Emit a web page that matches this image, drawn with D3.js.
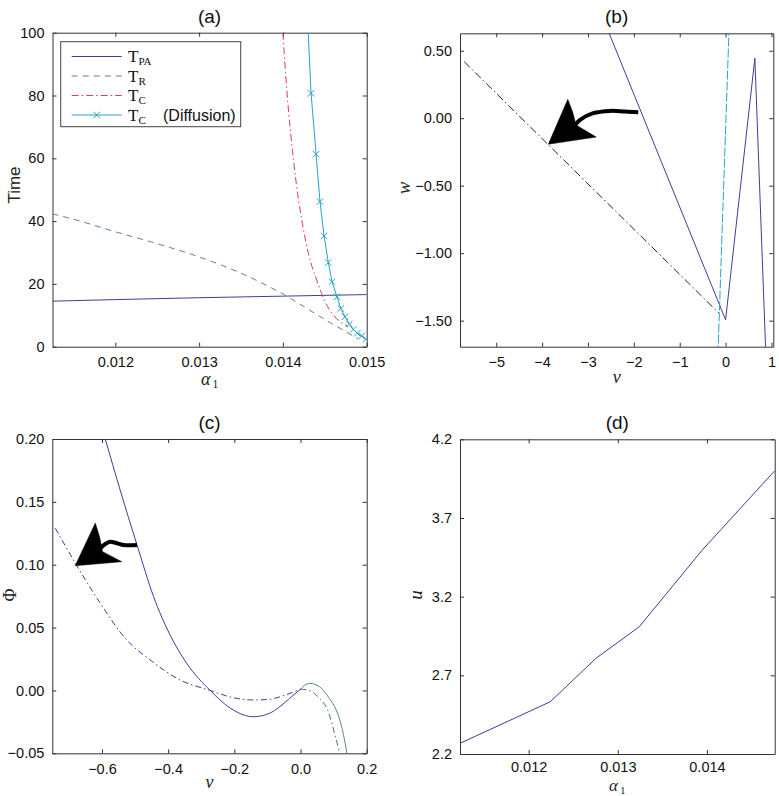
<!DOCTYPE html>
<html><head><meta charset="utf-8">
<script src="https://cdn.jsdelivr.net/npm/d3@7"></script>
<style>body{margin:0;background:#fff}svg{display:block}</style>
</head><body>
<script>
// ---------------- data ----------------
// (a) Time vs alpha_1
const alphaPA = [0.01125, 0.012, 0.013, 0.014, 0.015];
const timePA  = [14.5, 15.0, 15.6, 16.1, 16.6];
const alphaR  = [0.01125, 0.0115, 0.012, 0.0125, 0.013, 0.0135, 0.0138, 0.0140, 0.0142, 0.0144, 0.0146, 0.0148, 0.0149];
const timeR   = [42.3, 40.6, 36.6, 32.8, 28.6, 23.4, 19.6, 16.8, 13.6, 10.3, 7.1, 4.0, 2.5];
const alphaC  = [0.01400, 0.014048, 0.014095, 0.014157, 0.014225, 0.014304, 0.014404, 0.014503, 0.014602, 0.014702, 0.01478];
const timeC   = [100, 81.2, 67.4, 52.5, 40.4, 29.7, 21.2, 14.3, 10.1, 7.6, 6.4];
const alphaDiff = [0.014288, 0.014336, 0.014396, 0.014443, 0.014491, 0.014542, 0.014586, 0.014646, 0.01469, 0.014741, 0.014793, 0.01484, 0.014888, 0.01494, 0.014992];
const timeDiff  = [108, 80.7, 61.3, 46.2, 35.3, 26.8, 20.7, 15.9, 12.2, 9.55, 7.2, 5.5, 4.3, 3.4, 2.4];
const aXTicks = [0.012, 0.013, 0.014, 0.015];
const aYTicks = [0, 20, 40, 60, 80, 100];

// (b) w vs v
const vB_solid = [-2.56, 0, 0.638, 0.877];
const wB_solid = [0.647, -1.494, 0.444, -1.75];
const vB_dashdot = [-5.70, -0.146];
const wB_dashdot = [0.419, -1.444];
const vB_dashed = [-0.167, 0.077];
const wB_dashed = [-1.75, 0.68];
const bXTicks = [-5, -4, -3, -2, -1, 0, 1];
const bYTicks = [0.5, 0, -0.5, -1.0, -1.5];
// arrow annotation (b), data coordinates
const arrowB_body = [[-1.904, 0.044], [-2.2, 0.05], [-2.521, 0.054], [-2.885, 0.037], [-3.174, -0.013], [-3.30, -0.06]];
const arrowB_head = [[-3.865, -0.193], [-3.44, 0.14], [-3.26, -0.05], [-2.82, -0.14]];

// (c) Phi vs v
const vC_solidBlue   = [-0.600, -0.590, -0.545, -0.494, -0.444, -0.394, -0.344, -0.273, -0.203, -0.143, -0.094, -0.063, -0.033, 0.0];
const phiC_solidBlue = [0.209, 0.2, 0.1594, 0.1157, 0.0746, 0.0441, 0.0216, 0.0, -0.0156, -0.0209, -0.0182, -0.013, -0.0063, 0.001];
const vC_solidGreen   = [0.0, 0.015, 0.028, 0.057, 0.087, 0.108, 0.123, 0.133, 0.140, 0.142];
const phiC_solidGreen = [0.001, 0.0045, 0.0056, 0.003, -0.0063, -0.0156, -0.0275, -0.0394, -0.05, -0.054];
const vC_ddBlue   = [-0.741, -0.677, -0.605, -0.525, -0.454, -0.364, -0.273, -0.203, -0.143, -0.094, -0.05, 0.0];
const phiC_ddBlue = [0.129, 0.0998, 0.0693, 0.0401, 0.0242, 0.0083, 0.0, -0.0058, -0.0076, -0.0071, -0.004, 0.001];
const vC_ddGreen   = [0.0, 0.02, 0.057, 0.082, 0.108, 0.121];
const phiC_ddGreen = [0.001, 0.0005, -0.0063, -0.0156, -0.0394, -0.052];
const cXTicks = [-0.6, -0.4, -0.2, 0.0, 0.2];
const cYTicks = [-0.05, 0, 0.05, 0.10, 0.15, 0.20];
const arrowC_body = [[-0.494, 0.1157], [-0.535, 0.1157], [-0.560, 0.1175], [-0.575, 0.1183], [-0.590, 0.1165], [-0.605, 0.1131], [-0.614, 0.1101]];
const arrowC_head = [[-0.681, 0.0992], [-0.620, 0.1332], [-0.598, 0.1104], [-0.540, 0.1024]];

// (d) u vs alpha_1
const alphaU = [0.01123, 0.012243, 0.012755, 0.013241, 0.013947, 0.01476];
const uVals  = [2.268, 2.532, 2.808, 3.009, 3.496, 4.0];
const dXTicks = [0.012, 0.013, 0.014];
const dYTicks = [2.2, 2.7, 3.2, 3.7, 4.2];

// ---------------- drawing ----------------
const W = 779, H = 796;
const SANS = "'Liberation Sans', Arial, Helvetica, sans-serif";
const SERIF = "'Liberation Serif', 'Times New Roman', serif";
const BLUE = "#3d3d9e", GREEN = "#5c8a72", RED = "#d8404e", CYAN = "#26a3c6", AXC = "#333";
const svg = d3.select("body").append("svg").attr("width", W).attr("height", H);

function makeAxes(id, box, xDom, yDom, xT, yT, xFmt, yFmt, xPad) {
  const x = d3.scaleLinear().domain(xDom).range([box.l, box.r]);
  const y = d3.scaleLinear().domain(yDom).range([box.b, box.t]);
  const g = svg.append("g");
  svg.append("clipPath").attr("id", id).append("rect")
    .attr("x", box.l).attr("y", box.t).attr("width", box.r - box.l).attr("height", box.b - box.t);
  const style = sel => {
    sel.attr("font-family", SANS).attr("font-size", 14.5);
    sel.select(".domain").attr("stroke", AXC);
    sel.selectAll(".tick line").attr("stroke", AXC);
    sel.selectAll(".tick text").attr("fill", "#111");
  };
  g.append("g").attr("transform", `translate(0,${box.b})`)
    .call(d3.axisBottom(x).tickValues(xT).tickFormat(xFmt).tickSizeInner(-4).tickSizeOuter(0).tickPadding(xPad || 10)).call(style);
  g.append("g").attr("transform", `translate(0,${box.t})`)
    .call(d3.axisTop(x).tickValues(xT).tickFormat("").tickSizeInner(-4).tickSizeOuter(0)).call(style);
  g.append("g").attr("transform", `translate(${box.l},0)`)
    .call(d3.axisLeft(y).tickValues(yT).tickFormat(yFmt).tickSizeInner(-4).tickSizeOuter(0).tickPadding(8)).call(style);
  g.append("g").attr("transform", `translate(${box.r},0)`)
    .call(d3.axisRight(y).tickValues(yT).tickFormat("").tickSizeInner(-4).tickSizeOuter(0)).call(style);
  const plot = svg.append("g").attr("clip-path", `url(#${id})`);
  return {x, y, g, plot, box};
}

function drawLine(ax, xs, ys, color, dash, curve) {
  const pts = xs.map((v, i) => [v, ys[i]]);
  const gen = d3.line().x(d => ax.x(d[0])).y(d => ax.y(d[1])).curve(curve || d3.curveLinear);
  return ax.plot.append("path").datum(pts).attr("d", gen).attr("fill", "none")
    .attr("stroke", color).attr("stroke-width", 1).attr("stroke-dasharray", dash || null);
}

function drawArrow(ax, body, head) {
  const gen = d3.line().x(d => ax.x(d[0])).y(d => ax.y(d[1])).curve(d3.curveCatmullRom);
  ax.plot.append("path").datum(body).attr("d", gen).attr("fill", "none")
    .attr("stroke", "#000").attr("stroke-width", 4).attr("stroke-linecap", "butt");
  const hp = head.map(d => [ax.x(d[0]), ax.y(d[1])]);
  const p = d3.path();
  p.moveTo(hp[0][0], hp[0][1]);
  p.lineTo(hp[1][0], hp[1][1]);
  p.quadraticCurveTo((hp[1][0] + hp[2][0]) / 2 + 1.5, (hp[1][1] + hp[2][1]) / 2, hp[2][0], hp[2][1]);
  p.lineTo(hp[3][0], hp[3][1]);
  p.closePath();
  ax.plot.append("path").attr("d", p.toString())
    .attr("fill", "#000").attr("stroke", "#000").attr("stroke-width", 0.5).attr("stroke-linejoin", "miter");
}

function title(ax, txt) {
  svg.append("text").attr("x", (ax.box.l + ax.box.r) / 2).attr("y", ax.box.t - 10)
    .attr("text-anchor", "middle").attr("font-family", SANS).attr("font-size", 19).attr("fill", "#111").text(txt);
}
function xlabelAlpha(ax, off, fs) {
  const t = svg.append("text").attr("x", (ax.box.l + ax.box.r) / 2).attr("y", ax.box.b + off)
    .attr("text-anchor", "middle").attr("font-family", SERIF).attr("font-size", fs).attr("fill", "#222");
  t.append("tspan").attr("font-style", "italic").text("α");
  t.append("tspan").attr("font-size", fs * 0.65).attr("dy", 3).attr("dx", 2).text("1");
}
function xlabelText(ax, txt, off) {
  svg.append("text").attr("x", (ax.box.l + ax.box.r) / 2).attr("y", ax.box.b + off)
    .attr("text-anchor", "middle").attr("font-family", SERIF).attr("font-style", "italic")
    .attr("font-size", 18).attr("fill", "#222").text(txt);
}
function ylabel(xb, yc, txt, fam, size, italic) {
  svg.append("text").attr("transform", `translate(${xb},${yc}) rotate(-90)`)
    .attr("text-anchor", "middle").attr("font-family", fam).attr("font-size", size)
    .attr("font-style", italic ? "italic" : "normal").attr("fill", "#222").text(txt);
}

// ---- panel (a)
const A = makeAxes("clipA", {l: 52.5, r: 366.7, t: 32.7, b: 346.7}, [0.01125, 0.015], [0, 100],
  aXTicks, aYTicks, d3.format(".3f"), d3.format("d"));
drawLine(A, alphaPA, timePA, BLUE, null, d3.curveMonotoneX);
drawLine(A, alphaR, timeR, GREEN, "6,5", d3.curveMonotoneX);
drawLine(A, alphaC, timeC, RED, "7,3,1.5,3", d3.curveMonotoneX);
drawLine(A, alphaDiff, timeDiff, CYAN, null);
const xMark = (sel, cx, cy, r) => sel.append("path")
  .attr("d", `M${cx-r},${cy-r}L${cx+r},${cy+r}M${cx-r},${cy+r}L${cx+r},${cy-r}`)
  .attr("stroke", CYAN).attr("stroke-width", 1).attr("fill", "none");
alphaDiff.forEach((a, i) => xMark(A.plot, A.x(a), A.y(timeDiff[i]), 3.2));
title(A, "(a)");
xlabelAlpha(A, 38, 18);
ylabel(20, 185, "Time", SANS, 17, false);

// legend (a)
const L = svg.append("g");
L.append("rect").attr("x", 60.7).attr("y", 41.7).attr("width", 180).attr("height", 85)
  .attr("fill", "#fff").attr("stroke", "#444").attr("stroke-width", 1);
const legendItems = [
  {sub: "PA", color: BLUE, dash: null, mark: false, extra: ""},
  {sub: "R", color: GREEN, dash: "6,5", mark: false, extra: ""},
  {sub: "C", color: RED, dash: "7,3,1.5,3", mark: false, extra: ""},
  {sub: "C", color: CYAN, dash: null, mark: true, extra: "(Diffusion)"}
];
const rowY = [56.5, 76, 95.5, 115];
legendItems.forEach((it, i) => {
  const yy = rowY[i];
  L.append("line").attr("x1", 71.7).attr("x2", 121.7).attr("y1", yy).attr("y2", yy)
    .attr("stroke", it.color).attr("stroke-width", 1.1).attr("stroke-dasharray", it.dash);
  if (it.mark) xMark(L, 96.7, yy, 3.2);
  const t = L.append("text").attr("x", 128).attr("y", yy + 5.5).attr("font-family", SERIF)
    .attr("font-size", 17).attr("fill", "#111");
  t.append("tspan").text("T");
  t.append("tspan").attr("font-size", 11).attr("dy", 3).text(it.sub);
  if (it.extra) {
    L.append("text").attr("x", 163).attr("y", yy + 5.5).attr("font-family", SANS)
      .attr("font-size", 16).attr("fill", "#111").text(it.extra);
  }
});

// ---- panel (b)
const B = makeAxes("clipB", {l: 460, r: 773.3, t: 33.3, b: 346.7}, [-5.79, 1.04], [-1.693, 0.629],
  bXTicks, bYTicks, d3.format("d"), d3.format(".2f"));
drawLine(B, vB_dashdot, wB_dashdot, "#222", "8,3,1.5,3");
drawLine(B, vB_solid, wB_solid, BLUE, null);
drawLine(B, vB_dashed, wB_dashed, CYAN, "9,2");
drawArrow(B, arrowB_body, arrowB_head);
title(B, "(b)");
xlabelText(B, "v", 36);
ylabel(410, 188, "w", SERIF, 19, true);

// ---- panel (c)
const C = makeAxes("clipC", {l: 52.3, r: 366.7, t: 439, b: 753.3}, [-0.75, 0.2], [-0.05, 0.2],
  cXTicks, cYTicks, d3.format(".1f"), d3.format(".2f"));
drawLine(C, vC_ddBlue, phiC_ddBlue, BLUE, "6,3,1.5,3", d3.curveMonotoneX);
drawLine(C, vC_ddGreen, phiC_ddGreen, "#4f6f5f", "6,3,1.5,3", d3.curveMonotoneX);
drawLine(C, vC_solidBlue, phiC_solidBlue, BLUE, null, d3.curveMonotoneX);
drawLine(C, vC_solidGreen, phiC_solidGreen, GREEN, null, d3.curveMonotoneX);
drawArrow(C, arrowC_body, arrowC_head);
title(C, "(c)");
xlabelText(C, "v", 35);
ylabel(16, 595, "Φ", SERIF, 18, false);

// ---- panel (d)
const D = makeAxes("clipD", {l: 460, r: 774.7, t: 439.3, b: 754}, [0.01123, 0.01476], [2.2, 4.2],
  dXTicks, dYTicks, d3.format(".3f"), d3.format(".1f"), 8);
drawLine(D, alphaU, uVals, BLUE, null);
title(D, "(d)");
xlabelAlpha(D, 37, 17);
ylabel(422, 595, "u", SERIF, 19, true);
</script>
</body></html>
